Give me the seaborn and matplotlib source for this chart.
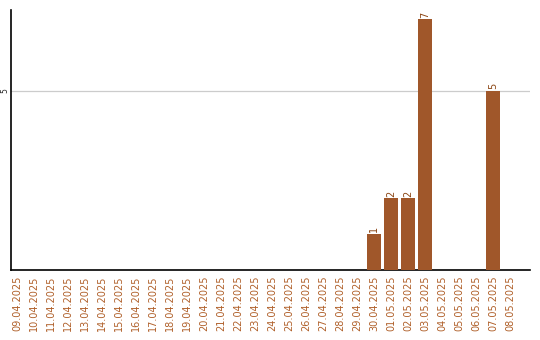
import matplotlib
matplotlib.use("Agg")
import matplotlib.pyplot as plt
import seaborn as sns
import pandas as pd

dates = ["09.04.2025", "10.04.2025", "11.04.2025", "12.04.2025", "13.04.2025",
         "14.04.2025", "15.04.2025", "16.04.2025", "17.04.2025", "18.04.2025",
         "19.04.2025", "20.04.2025", "21.04.2025", "22.04.2025", "23.04.2025",
         "24.04.2025", "25.04.2025", "26.04.2025", "27.04.2025", "28.04.2025",
         "29.04.2025", "30.04.2025", "01.05.2025", "02.05.2025", "03.05.2025",
         "04.05.2025", "05.05.2025", "06.05.2025", "07.05.2025", "08.05.2025"]
counts = [0, 0, 0, 0, 0, 0, 0, 0, 0, 0,
          0, 0, 0, 0, 0, 0, 0, 0, 0, 0,
          0, 1, 2, 2, 7, 0, 0, 0, 5, 0]
y_ticks = [5]

sns.set_theme(style="white")
plt.rcParams['font.family'] = ['DejaVu Sans']

df = pd.DataFrame({"date": dates, "count": counts})

fig = plt.figure(figsize=(5.4, 3.4), dpi=100)
ax = fig.add_axes([11/540, 70/340, 519/540, 260/340])

bar_color = "#A0572A"
label_color = "#B0602A"
sns.barplot(data=df, x="date", y="count", color=bar_color, saturation=1,
            width=0.82, linewidth=0, ax=ax, zorder=3)

for i, v in enumerate(counts):
    if v > 0:
        ax.text(i, v + 0.05, str(v), rotation=90, ha="center", va="bottom",
                fontsize=7, color="#8B4513")

ax.set_ylim(0, 7.26)
ax.set_xlim(-0.35, 30.18)
ax.set_yticks(y_ticks)
ax.set_yticklabels([str(t) for t in y_ticks], rotation=90, va="center", fontsize=5.5)
ax.yaxis.grid(True, color="#cccccc", linewidth=0.9, zorder=0)
ax.set_axisbelow(True)
ax.tick_params(axis="y", length=0, pad=1.5)
ax.tick_params(axis="x", length=0, pad=4, labelsize=7, labelcolor=label_color)
plt.setp(ax.get_xticklabels(), rotation=90)
ax.set_xlabel("")
ax.set_ylabel("")

for s in ["top", "right"]:
    ax.spines[s].set_visible(False)
for s in ["left", "bottom"]:
    ax.spines[s].set_color("black")
    ax.spines[s].set_linewidth(1.2)

fig.savefig("out.png", dpi=100)
